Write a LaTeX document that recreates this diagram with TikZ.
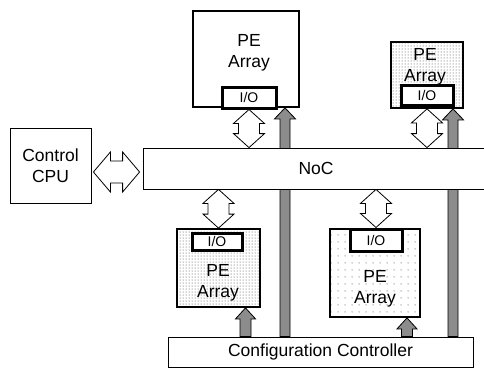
\documentclass[tikz,border=0pt]{standalone}
\usepackage{fontspec}
\setmainfont{Liberation Sans}
\usepackage{xcolor}
\definecolor{cfggray}{RGB}{140,140,140}
\definecolor{dotgray}{RGB}{60,60,60}
\usetikzlibrary{calc,patterns,patterns.meta,backgrounds}

\begin{document}
\begin{tikzpicture}[x=1pt, y=-1pt,
  box/.style={draw, line width=0.8pt, fill=white, inner sep=0pt, align=center,
    font=\fontsize{17.5}{21}\selectfont},
  pebox/.style={draw, line width=1.8pt, inner sep=0pt},
  iobox/.style={draw, line width=3pt, fill=white, inner sep=0pt,
    font=\fontsize{14}{16}\selectfont},
  petext/.style={inner sep=0pt, align=center, font=\fontsize{17.5}{21}\selectfont},
  dense/.style={pattern={Dots[distance=3pt, radius=0.5pt]}, pattern color=dotgray},
  sparse/.style={pattern={Dots[distance=6.5pt, radius=0.55pt]}, pattern color=dotgray},
  hollow/.style={draw, line width=0.8pt, fill=white},
  cfgarrow/.style={draw, line width=0.8pt, fill=cfggray},
  % double block arrow: head length, head half width, shaft half width
  dblarrow/.style n args={3}{to path={
    (\tikztostart)
    -- ($(\tikztostart)!#1!(\tikztotarget)!#2!90:(\tikztotarget)$)
    -- ($(\tikztostart)!#1!(\tikztotarget)!#3!90:(\tikztotarget)$)
    -- ($(\tikztotarget)!#1!(\tikztostart)!#3!-90:(\tikztostart)$)
    -- ($(\tikztotarget)!#1!(\tikztostart)!#2!-90:(\tikztostart)$)
    -- (\tikztotarget)
    -- ($(\tikztotarget)!#1!(\tikztostart)!#2!90:(\tikztostart)$)
    -- ($(\tikztotarget)!#1!(\tikztostart)!#3!90:(\tikztostart)$)
    -- ($(\tikztostart)!#1!(\tikztotarget)!#3!-90:(\tikztotarget)$)
    -- ($(\tikztostart)!#1!(\tikztotarget)!#2!-90:(\tikztotarget)$)
    -- cycle}},
  % single block arrow, tip at the target
  blockarrow/.style n args={3}{to path={
    ($(\tikztostart)!#3!90:(\tikztotarget)$)
    -- ($(\tikztotarget)!#1!(\tikztostart)!#3!-90:(\tikztostart)$)
    -- ($(\tikztotarget)!#1!(\tikztostart)!#2!-90:(\tikztostart)$)
    -- (\tikztotarget)
    -- ($(\tikztotarget)!#1!(\tikztostart)!#2!90:(\tikztostart)$)
    -- ($(\tikztotarget)!#1!(\tikztostart)!#3!90:(\tikztostart)$)
    -- ($(\tikztostart)!#3!-90:(\tikztotarget)$)
    -- cycle}}]

\useasboundingbox (0,0) rectangle (484,370);
\clip (0,0) rectangle (484,370);

% Control CPU and NoC
\node[box, minimum width=81pt, minimum height=75pt] (cpu) at (50.5,165.5) {Control\\CPU};
\node[box, minimum width=346pt, minimum height=41pt] (noc) at (316,168.5) {NoC};

% Configuration Controller
\node[box, minimum width=305pt, minimum height=30pt] (cfg) at (320.5,352) {Configuration Controller};

% PE array, top
\node[pebox, fill=white, minimum width=106pt, minimum height=96pt] (peA) at (246,59) {};
\node[petext] (tA) at (249,53) {PE\\Array};
\node[iobox, minimum width=54pt, minimum height=21pt] (ioA) at (249,97.5) {I/O};

% PE array, top right
\node[pebox, dense, minimum width=72pt, minimum height=66pt] (peB) at (427,75) {};
\node[petext] (tB) at (425,67) {PE\\Array};
\node[iobox, minimum width=52pt, minimum height=20pt] (ioB) at (427,95) {I/O};

% PE array, bottom left
\node[pebox, dense, minimum width=83pt, minimum height=78pt] (peC) at (218.5,268) {};
\node[petext] (tC) at (218,283) {PE\\Array};
\node[iobox, minimum width=50pt, minimum height=17pt] (ioC) at (217,241.5) {I/O};

% PE array, bottom right
\node[pebox, sparse, minimum width=90pt, minimum height=88pt] (peD) at (375,273) {};
\node[petext] (tD) at (375,289) {PE\\Array};
\node[iobox, minimum width=52pt, minimum height=22pt] (ioD) at (376,240) {I/O};

% Data arrows
\coordinate (nA) at (ioA.south |- noc.north);
\coordinate (nB) at (peB.south |- noc.north);
\coordinate (nC) at (peC.north |- noc.south);
\coordinate (nD) at (ioD.north |- noc.south);
\coordinate (cA) at ($(cpu.east)+(2,6.5)$);
\coordinate (cB) at ($(cA -| noc.west)+(-3,0)$);
\draw[hollow, dblarrow={14pt}{15.5pt}{10.5pt}] (ioA.south) to (nA);
\draw[hollow, dblarrow={14pt}{15.5pt}{10.5pt}] (peB.south) to (nB);
\draw[hollow, dblarrow={14pt}{15.5pt}{10.5pt}] (nC) to (peC.north);
\draw[hollow, dblarrow={14pt}{15.5pt}{10.5pt}] (nD) to (ioD.north);
\draw[hollow, dblarrow={17pt}{20pt}{11pt}] (cA) to (cB);

% Configuration arrows
\coordinate (g1t) at ($(peA.south)+(39,0)$);
\coordinate (g1b) at (g1t |- cfg.north);
\coordinate (g2t) at ($(peB.south)+(26,0)$);
\coordinate (g2b) at (g2t |- cfg.north);
\coordinate (g3t) at ($(peC.south)+(27,0)$);
\coordinate (g3b) at (g3t |- cfg.north);
\coordinate (g4t) at ($(peD.south)+(32,0)$);
\coordinate (g4b) at (g4t |- cfg.north);
\begin{scope}[on background layer]
\draw[cfgarrow, blockarrow={11pt}{10.5pt}{5pt}] (g1b) to (g1t);
\draw[cfgarrow, blockarrow={11pt}{10.5pt}{5pt}] (g2b) to (g2t);
\draw[cfgarrow, blockarrow={11pt}{10pt}{5.5pt}] (g3b) to (g3t);
\draw[cfgarrow, blockarrow={11pt}{10pt}{5.5pt}] (g4b) to (g4t);
\end{scope}

\end{tikzpicture}
\end{document}
